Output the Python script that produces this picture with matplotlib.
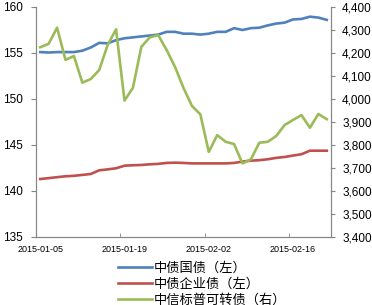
import matplotlib
matplotlib.use("Agg")
import numpy as np
import matplotlib.pyplot as plt
from matplotlib.ticker import FixedLocator, FuncFormatter

plt.rcParams['font.family'] = ['Liberation Sans', 'DejaVu Sans']

# trading days, 35 points; labels every 10 points
date_labels = ['2015-01-05', '2015-01-19', '2015-02-02', '2015-02-16']

gov_bond = [155.1, 155.05, 155.1, 155.1, 155.1, 155.25, 155.6, 156.1, 156.05, 156.4,
            156.6, 156.7, 156.8, 156.9, 157.0, 157.3, 157.3, 157.1, 157.1, 157.0,
            157.1, 157.3, 157.3, 157.7, 157.5, 157.7, 157.75, 158.0, 158.2, 158.3,
            158.65, 158.7, 158.95, 158.85, 158.6]

corp_bond = [141.3, 141.4, 141.5, 141.6, 141.65, 141.75, 141.85, 142.25, 142.35, 142.47,
             142.75, 142.8, 142.83, 142.9, 142.95, 143.05, 143.08, 143.05, 143.0, 143.0,
             143.0, 143.0, 143.0, 143.05, 143.2, 143.3, 143.35, 143.45, 143.6, 143.7,
             143.85, 144.0, 144.38, 144.38, 144.38]

conv_bond = [4225, 4240, 4310, 4170, 4187, 4071, 4087, 4126, 4235, 4303,
             3993, 4049, 4227, 4268, 4278, 4213, 4139, 4048, 3970, 3933,
             3770, 3843, 3814, 3804, 3720, 3738, 3810, 3814, 3839, 3887,
             3909, 3930, 3875, 3935, 3912]

names = ['中债国债（左）', '中债企业债（左）', '中信标普可转债（右）']
colors = ['#4F81BD', '#C0504D', '#9BBB59']

x = np.arange(len(gov_bond))
gray = '#868686'

fig = plt.figure(figsize=(3.72, 3.05), dpi=100)
ax = fig.add_axes([36/372, 1-237/305, (331-36)/372, (237-7)/305])
ax2 = ax.twinx()

l1, = ax.plot(x, gov_bond, color=colors[0], lw=1.9)
l2, = ax.plot(x, corp_bond, color=colors[1], lw=1.9)
l3, = ax2.plot(x, conv_bond, color=colors[2], lw=1.9)

ax.set_xlim(-0.5, len(x) - 0.5)
ax.set_ylim(135, 160)
ax.set_yticks(np.arange(135, 161, 5))
ax2.set_ylim(3400, 4400)
ax2.set_yticks(np.arange(3400, 4401, 100))
ax2.yaxis.set_major_formatter(FuncFormatter(lambda v, p: f'{int(v):,}'))

ax.set_xticks([0, 10, 20, 30])
ax.set_xticklabels(date_labels)
ax.xaxis.set_minor_locator(FixedLocator([9.5, 19.5, 29.5]))
ax.tick_params(axis='x', which='major', length=0, pad=6, labelsize=6.5)
ax.tick_params(axis='x', which='minor', length=3, direction='in', color=gray)
ax.tick_params(axis='y', length=3.6, color=gray, labelsize=8.5, pad=6)
ax2.tick_params(axis='y', length=3, color=gray, labelsize=8.5, pad=5)

for a in (ax, ax2):
    a.spines['top'].set_visible(False)
    for s in ('left', 'right', 'bottom'):
        a.spines[s].set_color(gray)

fig.legend([l1, l2, l3], names, loc='upper left', bbox_to_anchor=(118/372, 1-262/305),
           frameon=False, borderpad=0, borderaxespad=0, handlelength=2.6,
           handletextpad=0.1, labelspacing=0.2,
           prop={'family': ['Noto Sans CJK SC', 'DejaVu Sans'], 'size': 9.5})

fig.savefig('out.png', dpi=100)
